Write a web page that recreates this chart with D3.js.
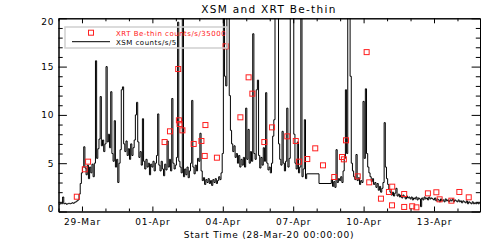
<!DOCTYPE html>
<html>
<head>
<meta charset="utf-8">
<script src="https://cdn.jsdelivr.net/npm/d3@7/dist/d3.min.js"></script>
<style>
  html, body { margin: 0; padding: 0; background: #fff; }
  text { font-family: 'DejaVu Sans', sans-serif; }
</style>
</head>
<body>
<div class="canvas"></div>
<script>
// days since 28-Mar-20 00:00:00
const dayTicks = [1, 4, 7, 10, 13, 16];
const dayLabels = ['29-Mar', '01-Apr', '04-Apr', '07-Apr', '10-Apr', '13-Apr'];
const countTicks = [0, 5, 10, 15, 20];

// XSM counts/s/5, one bin every 0.05 day, null = no data
const xsmStep = 0.05;
const xsmCounts = [
  0.8, 0.75, 0.85, 0.8, 1.5, 0.8, 0.85, 0.75, 0.8, 0.85, 0.8, 0.85, 0.9, 0.85, 0.95, 1.0, 1.1, 1.2, 1.8, 2.9,
  4.0, 4.6, 6.7, 4.5, 3.8, 4.8, 3.4, 4.6, 4.0, 4.9, 3.6, 5.0, 15.6, 5.5, 6.5, 7.5, 11.9, 6.8, 7.4, 6.2,
  7.0, 15.0, 7.2, 8.0, 6.6, 12.4, 6.0, 5.2, 9.4, 4.6, 5.4, 3.0, 5.0, 6.4, 12.6, 12.9, 7.0, 6.2, 7.3, 5.8,
  6.5, 5.4, 7.0, 5.8, 6.6, 7.4, 10.0, 11.3, 7.2, 5.6, 6.2, 4.8, 9.6, 5.2, 4.4, 5.4, 4.6, 5.0, 3.8, 4.9,
  4.6, 5.2, 4.2, 5.0, 5.8, 10.1, 4.8, 4.2, 5.2, 4.4, 3.7, 4.9, 4.3, 7.3, 4.6, 5.4, 4.2, 11.7, 5.0, 4.4,
  4.8, 5.6, 19.6, 5.2, 4.6, 4.0, 45, 3.6, 4.4, 3.8, 4.6, 3.5, 4.2, 5.0, 11.5, 4.6, 3.9, 4.8, 4.2, 5.5,
  5.2, 8.1, 4.2, 3.2, 3.5, 2.8, 3.3, 3.0, 3.4, 2.9, 3.2, 2.7, 3.3, 3.0, 3.4, 2.9, 3.2, 3.6, 3.3, 4.0,
  6.0, 30, 14, 13, 30, 32, 12, 8.4, 7.0, 6.2, 6.8, 5.6, 6.0, 5.0, 5.8, 4.6, 5.4, 4.8, 5.6, 4.6,
  10.7, 5.4, 8.5, 5.0, 6.2, 5.2, 18.4, 6.0, 5.4, 12.6, 13.6, 5.8, 4.5, 5.6, 4.8, 6.6, 5.2, 12.3, 5.0, 4.3,
  4.6, 4.0, 5.0, 7.8, 9.5, 30, 25, 30, 7.0, 5.4, 4.8, 8.3, 5.0, 4.2, 5.2, 10.7, 4.6, 5.5, 28, 24,
  35, 8.0, 5.0, 4.4, 7.2, 4.0, 4.6, 45, 3.6, 4.4, 9.5, 3.4, 3.9, null, null, null, null, null, null, null,
  null, null, null, null, null, null, null, null, null, null, null, null, 2.9, 3.3, 2.6, 3.1, 2.5, 6.4, 3.0, 3.4,
  3.2, 3.6, 3.0, 4.2, 5.5, 12.6, 6.0, 40, 30, 14.0, 5.0, 4.2, 3.6, 3.3, 5.9, 3.2, 3.5, 2.8, 3.2, 3.0,
  11.4, 5.5, 12.7, 6.0, 4.6, 4.0, 3.6, 3.1, 3.4, 2.8, 3.0, 2.5, 2.9, 2.2, 2.6, 2.0, 2.4, 3.0, 9.2, 4.6,
  3.4, 2.8, 2.3, 2.0, 1.7, 2.0, 1.6, 1.9, 2.4, 1.6, 1.8, 1.5, 1.7, 1.4, 1.7, 1.5, 1.3, 1.6, 1.4, 1.5,
  1.3, 1.5, 1.2, 1.4, 1.3, 1.5, 1.2, 1.4, 1.3, 0.5, 1.4, 1.2, 1.5, 1.3, 1.4, 1.2, 1.5, 1.3, 1.4, 1.3,
  1.2, 1.4, 1.1, 1.3, 1.2, 1.0, 1.3, 1.1, 1.2, 1.0, 1.3, 1.1, 1.2, 1.0, 1.2, 1.1, 1.3, 1.0, 1.2, 1.1,
  1.0, 1.2, 1.0, 1.1, 0.9, 1.1, 1.0, 0.9, 1.1, 0.8, 1.0, 0.9, 0.8, 1.0, 0.8, 0.9, 0.8, 0.9, 0.8, 0.85,
];

// XRT Be-thin counts/s/35000
const xrtTimes = [
  0.78, 1.12, 1.26, 4.52, 4.75, 5.10, 5.13, 5.16, 5.28, 5.76, 6.09, 6.23, 6.26, 6.75, 7.12, 7.75,
  8.10, 8.26, 8.77, 9.10, 9.75, 10.11, 10.25, 10.60, 10.94, 11.27, 11.75, 12.08, 12.16, 12.25, 12.75,
  13.13, 13.24, 13.74, 14.08, 14.21, 14.22, 14.73, 14.73, 15.07, 15.25, 15.74, 16.10, 16.24, 16.74,
  17.08, 17.48,
];
const xrtCounts = [
  1.53, 4.37, 5.16, 7.19, 8.30, 14.75, 9.44, 9.06, 8.40, 6.99, 7.30, 5.75, 8.95, 5.57, 17.10, 9.75,
  13.89, 12.2, 7.19, 8.71, 7.78, 7.30, 5.16, 5.43, 6.54, 4.78, 3.57, 5.64, 5.40, 7.37, 3.64,
  16.5, 3.02, 1.33, 2.02, 0.64, 2.57, 1.81, 0.47, 0.54, 0.43, 1.88, 1.99, 1.26, 1.12,
  2.02, 1.47,
];

const W = 498;
const H = 249;
const box = { left: 58.5, right: 480, top: 18.3, bottom: 211.5 };

const svg = d3
  .select('.canvas')
  .append('svg')
  .attr('width', W)
  .attr('height', H);

const x = d3.scaleLinear().domain([0, 17.96]).range([box.left, box.right]);
const y = d3.scaleLinear().domain([0, 20]).range([box.bottom, box.top]);

svg
  .append('defs')
  .append('clipPath')
  .attr('id', 'plotClip')
  .append('rect')
  .attr('x', box.left)
  .attr('y', box.top)
  .attr('width', box.right - box.left)
  .attr('height', box.bottom - box.top);

// title
svg
  .append('text')
  .attr('x', 269)
  .attr('y', 12.5)
  .attr('text-anchor', 'middle')
  .attr('font-size', 10.5)
  .attr('letter-spacing', 1.3)
  .text('XSM and XRT Be-thin');

// XSM light curve, histogram style
const xsmData = xsmCounts
  .map((v, i) => ({ t: i * xsmStep, v }))
  .filter(d => d.v !== null);

const line = d3
  .line()
  .x(d => x(d.t))
  .y(d => y(d.v))
  .curve(d3.curveStep);

svg
  .append('path')
  .datum(xsmData)
  .attr('clip-path', 'url(#plotClip)')
  .attr('d', line)
  .attr('fill', 'none')
  .attr('stroke', '#000')
  .attr('stroke-width', 1);

// XRT squares
svg
  .append('g')
  .attr('id', 'xrtPoints')
  .selectAll('rect')
  .data(xrtTimes.map((t, i) => ({ t, v: xrtCounts[i] })))
  .join('rect')
  .attr('x', d => x(d.t) - 2.5)
  .attr('y', d => y(d.v) - 2.5)
  .attr('width', 5)
  .attr('height', 5)
  .attr('fill', 'none')
  .attr('stroke', '#ff2020')
  .attr('stroke-width', 1);

// axes, IDL style: ticks point inward, box all round
const styleAxis = g => {
  g.select('.domain').attr('stroke', '#000');
  g.selectAll('line').attr('stroke', '#000');
  g.selectAll('text')
    .attr('font-size', 9)
    .attr('letter-spacing', 0.9)
    .attr('fill', '#000')
    .attr('font-family', "'DejaVu Sans', sans-serif");
};

const minorDays = d3.range(0, 18).filter(d => !dayTicks.includes(d));
const minorCounts = d3.range(0, 21).filter(d => d % 5 !== 0);

svg
  .append('g')
  .attr('transform', `translate(0,${box.bottom})`)
  .call(
    d3.axisBottom(x)
      .tickValues(dayTicks)
      .tickFormat((d, i) => dayLabels[i])
      .tickSizeInner(-5)
      .tickSizeOuter(0)
      .tickPadding(7)
  )
  .call(styleAxis);

svg
  .append('g')
  .attr('transform', `translate(0,${box.bottom})`)
  .call(d3.axisBottom(x).tickValues(minorDays).tickFormat('').tickSizeInner(-3).tickSizeOuter(0))
  .call(styleAxis);

svg
  .append('g')
  .attr('transform', `translate(0,${box.top})`)
  .call(d3.axisTop(x).tickValues(dayTicks).tickFormat('').tickSizeInner(-5).tickSizeOuter(0))
  .call(styleAxis);

svg
  .append('g')
  .attr('transform', `translate(0,${box.top})`)
  .call(d3.axisTop(x).tickValues(minorDays).tickFormat('').tickSizeInner(-3).tickSizeOuter(0))
  .call(styleAxis);

const yAxis = svg
  .append('g')
  .attr('transform', `translate(${box.left},0)`)
  .call(
    d3.axisLeft(y)
      .tickValues(countTicks)
      .tickFormat(d3.format('d'))
      .tickSizeInner(-8.4)
      .tickSizeOuter(0)
      .tickPadding(4)
  )
  .call(styleAxis);

// end labels sit a little inside the box
yAxis
  .selectAll('.tick text')
  .attr('dy', d => (d === 0 ? '-0.05em' : d === 20 ? '0.72em' : '0.32em'));

svg
  .append('g')
  .attr('transform', `translate(${box.left},0)`)
  .call(d3.axisLeft(y).tickValues(minorCounts).tickFormat('').tickSizeInner(-4.2).tickSizeOuter(0))
  .call(styleAxis);

svg
  .append('g')
  .attr('transform', `translate(${box.right},0)`)
  .call(d3.axisRight(y).tickValues(countTicks).tickFormat('').tickSizeInner(-8.4).tickSizeOuter(0))
  .call(styleAxis);

svg
  .append('g')
  .attr('transform', `translate(${box.right},0)`)
  .call(d3.axisRight(y).tickValues(minorCounts).tickFormat('').tickSizeInner(-4.2).tickSizeOuter(0))
  .call(styleAxis);

svg
  .append('text')
  .attr('x', 269)
  .attr('y', 238)
  .attr('text-anchor', 'middle')
  .attr('font-size', 9)
  .attr('letter-spacing', 0.8)
  .text('Start Time (28-Mar-20 00:00:00)');

// legend
const legend = svg.append('g').attr('id', 'legend');

legend
  .append('rect')
  .attr('x', 65)
  .attr('y', 27)
  .attr('width', 162)
  .attr('height', 21)
  .attr('fill', 'none')
  .attr('stroke', '#cfcfcf')
  .attr('stroke-width', 1.5);

legend
  .append('rect')
  .attr('x', 88.5)
  .attr('y', 30.2)
  .attr('width', 5)
  .attr('height', 5)
  .attr('fill', 'none')
  .attr('stroke', '#ff2020');

legend
  .append('text')
  .attr('x', 116)
  .attr('y', 35.5)
  .attr('font-size', 7)
  .attr('letter-spacing', 0.5)
  .attr('fill', '#ff2020')
  .text('XRT Be-thin counts/s/35000');

legend
  .append('line')
  .attr('x1', 72)
  .attr('x2', 110)
  .attr('y1', 41.7)
  .attr('y2', 41.7)
  .attr('stroke', '#000');

legend
  .append('text')
  .attr('x', 116)
  .attr('y', 44.5)
  .attr('font-size', 7)
  .attr('letter-spacing', 0.5)
  .attr('fill', '#000')
  .text('XSM counts/s/5');
</script>
</body>
</html>
